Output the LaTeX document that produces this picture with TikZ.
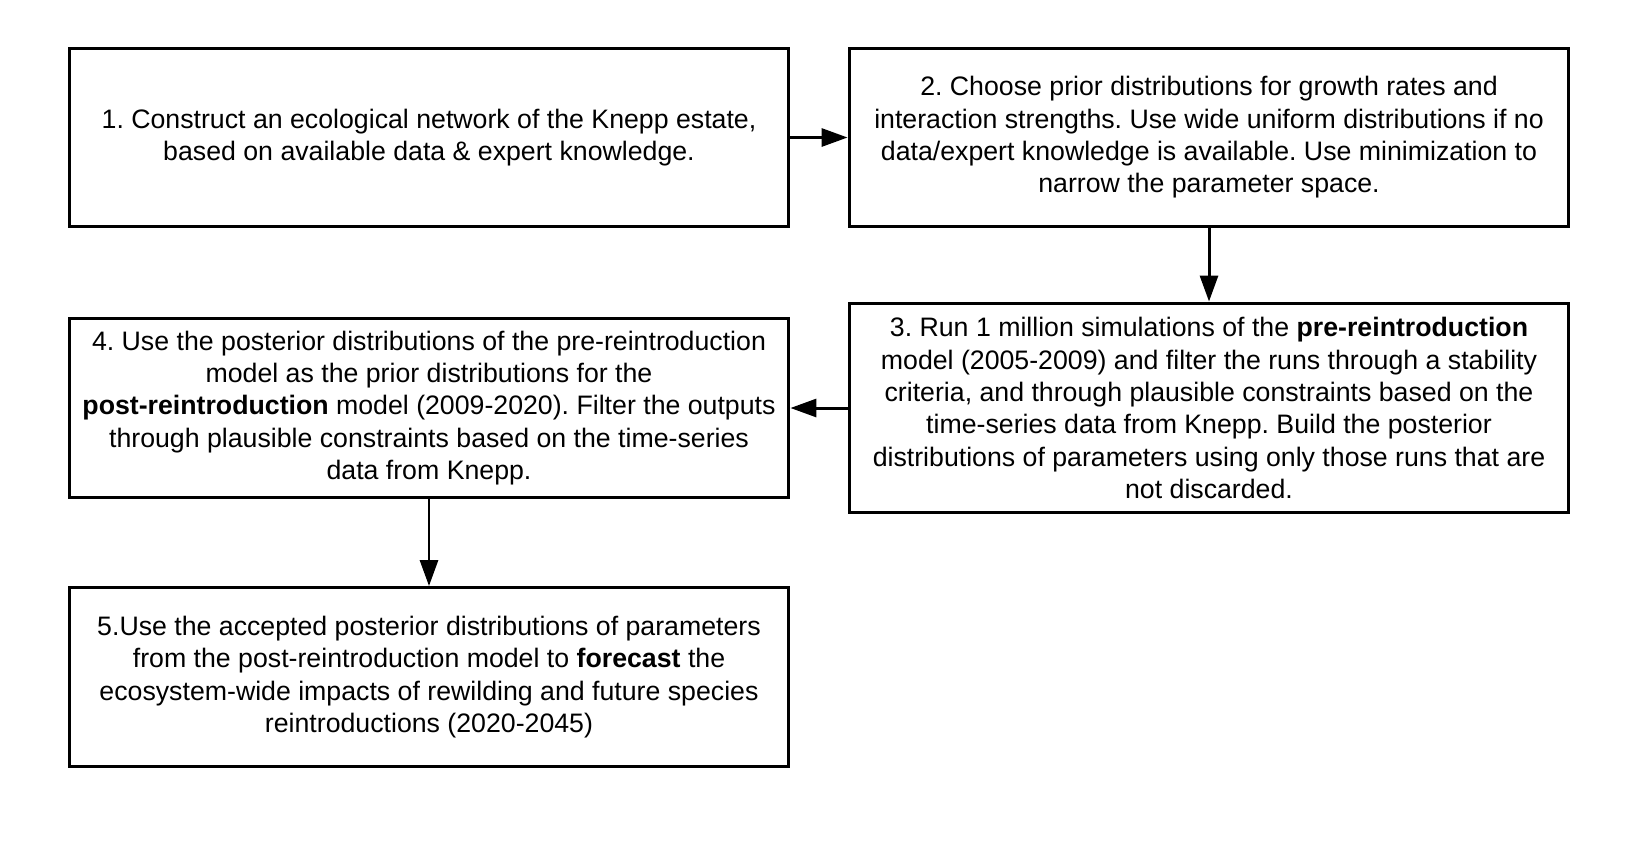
\documentclass[tikz,border=0pt]{standalone}
\usepackage{fontspec}
\setmainfont{Liberation Sans}
\usetikzlibrary{arrows.meta}
\frenchspacing

\begin{document}
\begin{tikzpicture}[x=0.02cm, y=-0.02cm, auto, line width=1.7pt,
    >={Triangle[length=0.52cm,width=0.36cm]}]
   \useasboundingbox (0,0) rectangle (1632,856);

   \begin{scope}[every node/.style={rectangle,draw=black,line width=1.7pt,align=center,
        minimum width=14.4cm,minimum height=3.58cm,inner sep=0pt,
        font=\fontsize{15.2}{18.4}\selectfont}]
    \node (b1) at (429,137.5) {1. Construct an ecological network of the Knepp estate,\\based on available data \& expert knowledge.};
    \node (b2) at (1209,137.5) {2. Choose prior distributions for growth rates and\\interaction strengths. Use wide uniform distributions if no\\data/expert knowledge is available. Use minimization to\\narrow the parameter space.};
    \node[minimum height=4.2cm] (b3) at (1209,408) {3. Run 1 million simulations of the \textbf{pre-reintroduction}\\model (2005-2009) and filter the runs through a stability\\criteria, and through plausible constraints based on the\\time-series data from Knepp. Build the posterior\\distributions of parameters using only those runs that are\\not discarded.};
    \node (b4) at (429,408) {4. Use the posterior distributions of the pre-reintroduction\\model as the prior distributions for the\\\textbf{post-reintroduction} model (2009-2020). Filter the outputs\\through plausible constraints based on the time-series\\data from Knepp.};
    \node (b5) at (429,677) {5.Use the accepted posterior distributions of parameters\\from the post-reintroduction model to \textbf{forecast} the\\ecosystem-wide impacts of rewilding and future species\\reintroductions (2020-2045)};
   \end{scope}
\draw[->] (b1) edge (b2);
\draw[->] (b2) edge (b3);
\draw[->] (b3) edge (b4);
\draw[->] (b4) edge (b5);
\end{tikzpicture}
\end{document}
